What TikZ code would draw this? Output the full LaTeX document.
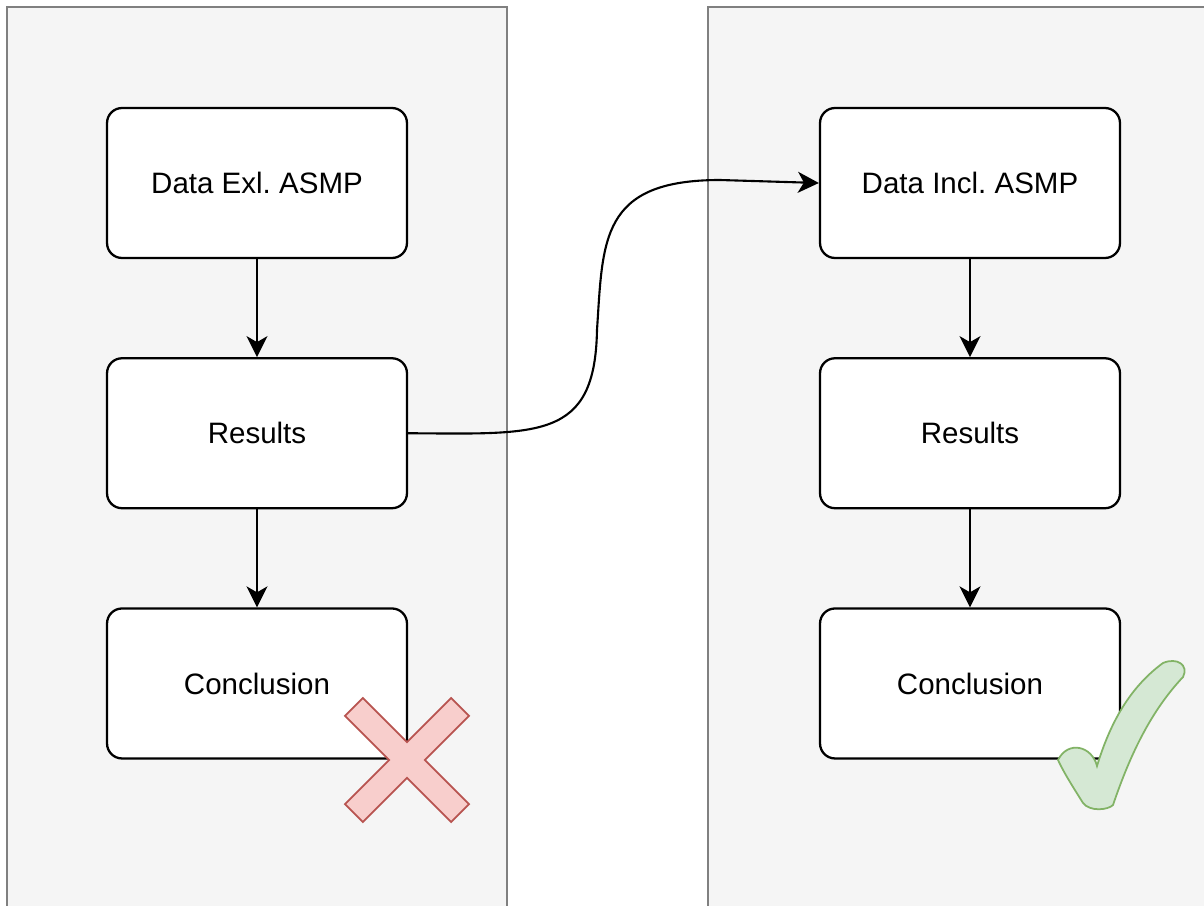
\documentclass[tikz,border=0pt]{standalone}
\usepackage{fontspec}
\setmainfont{Liberation Sans}
\usepackage{xcolor}
\usetikzlibrary{arrows.meta,positioning}
\definecolor{panelfill}{RGB}{245,245,245}
\definecolor{panelline}{RGB}{128,128,128}
\definecolor{crossfill}{RGB}{248,206,204}
\definecolor{crossline}{RGB}{184,84,80}
\definecolor{tickfill}{RGB}{213,232,212}
\definecolor{tickline}{RGB}{130,179,102}

\tikzset{
  card/.style={draw, line width=1.3pt, rounded corners=0.3cm, fill=white,
    minimum width=6cm, minimum height=3cm,
    font=\fontsize{16.8}{20}\selectfont\frenchspacing},
  flow/.style={line width=1.2pt, -{Stealth[length=0.42cm, width=0.42cm, inset=0.12cm]}},
}

\begin{document}
\begin{tikzpicture}[x=0.02cm, y=-0.02cm]
\useasboundingbox (0,0) rectangle (1204,906);
\clip (0,0) rectangle (1204,906);

% Two panels, both run off the bottom
\draw[panelline, line width=1.2pt, fill=panelfill] (7,7) rectangle (507,930);
\draw[panelline, line width=1.2pt, fill=panelfill] (708,7) rectangle (1230,930);

% Left column - without ASMP
\node[card] (exlData) at (257,183) {Data Exl. ASMP};
\node[card, below=1.96cm of exlData] (exlRes) {Results};
\node[card, below=1.96cm of exlRes] (exlConc) {Conclusion};

% Right column - with ASMP
\node[card] (inclData) at (970,183) {Data Incl. ASMP};
\node[card, below=1.96cm of inclData] (inclRes) {Results};
\node[card, below=1.96cm of inclRes] (inclConc) {Conclusion};

\draw[flow] (exlData) -- (exlRes);
\draw[flow] (exlRes) -- (exlConc);
\draw[flow] (inclData) -- (inclRes);
\draw[flow] (inclRes) -- (inclConc);

% Results feed over to the other side
\draw[flow] (exlRes.east) .. controls (540,434) and (595,440) .. (597,330)
  .. controls (603,240) and (600,180) .. (720,180) -- (inclData.west);

% Red cross on the left conclusion
\begin{scope}[shift={(407,760)}, rotate=45]
  \draw[crossline, line width=1pt, fill=crossfill]
    (75,12.7) -- (12.7,12.7) -- (12.7,75) -- (-12.7,75) -- (-12.7,12.7)
    -- (-75,12.7) -- (-75,-12.7) -- (-12.7,-12.7) -- (-12.7,-75)
    -- (12.7,-75) -- (12.7,-12.7) -- (75,-12.7) -- cycle;
\end{scope}

% Green tick on the right conclusion
\draw[tickline, line width=1pt, fill=tickfill]
  (1097,766) .. controls (1092,746) and (1068,740) .. (1058,760)
  .. controls (1065,775) and (1075,790) .. (1083,803)
  .. controls (1090,812) and (1108,810) .. (1113,805)
  .. controls (1131,752) and (1152,710) .. (1183,677)
  .. controls (1189,665) and (1177,657) .. (1163,663)
  .. controls (1126,690) and (1108,730) .. (1097,766) -- cycle;
\end{tikzpicture}
\end{document}
